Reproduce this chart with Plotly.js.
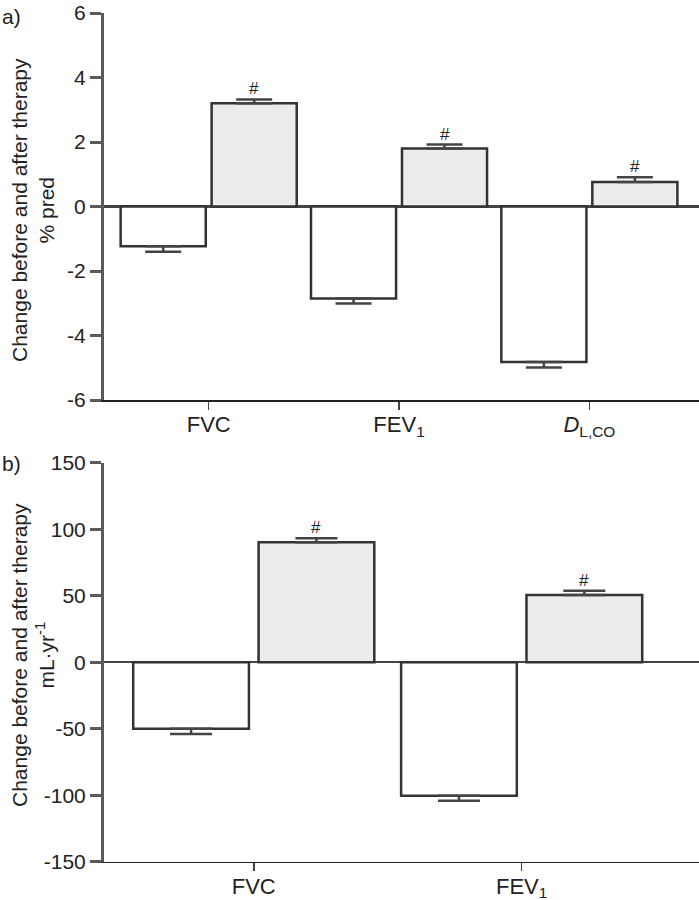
<!DOCTYPE html>
<html>
<head>
<meta charset="utf-8">
<script src="https://cdn.plot.ly/plotly-3.0.1.min.js"></script>
<style>html,body{margin:0;padding:0;background:#fff;}#chart{width:699px;height:900px;}</style>
</head>
<body>
<div id="chart"></div>
<script>
// Panel a: % predicted
const categoriesA = ['FVC', 'FEV<sub>1</sub>', '<i>D</i><sub>L,CO</sub>'];
const beforeA = [-1.23, -2.85, -4.82];
const beforeErrA = [0.17, 0.16, 0.17];
const afterA = [3.20, 1.80, 0.76];
const afterErrA = [0.12, 0.12, 0.15];
const markA = ['#', '#', '#'];
const tickValsA = [-6, -4, -2, 0, 2, 4, 6];
const tickTextA = ['-6', '-4', '-2', '0', '2', '4', '6'];

// Panel b: mL·yr-1
const categoriesB = ['FVC', 'FEV<sub>1</sub>'];
const beforeB = [-50.1, -100.5];
const beforeErrB = [3.8, 3.7];
const afterB = [90.2, 50.6];
const afterErrB = [3.0, 3.2];
const markB = ['#', '#'];
const tickValsB = [-150, -100, -50, 0, 50, 100, 150];
const tickTextB = ['-150', '-100', '-50', '0', '50', '100', '150'];

const FONT = 'Arial, "Liberation Sans", sans-serif';
const OUTLINE = {color: '#333', width: 2.5};

function zeros(n){ return new Array(n).fill(0); }

function barPair(cats, before, bErr, after, aErr, xa, ya, w, off, capw) {
  return [
    {type: 'bar', x: cats, y: before, xaxis: xa, yaxis: ya, width: w, offset: -off - w/2,
     marker: {color: '#ffffff', line: OUTLINE},
     error_y: {type: 'data', symmetric: false, array: zeros(before.length), arrayminus: bErr,
               color: '#444', thickness: 2.5, width: capw},
     showlegend: false, hoverinfo: 'y'},
    {type: 'bar', x: cats, y: after, xaxis: xa, yaxis: ya, width: w, offset: off - w/2,
     marker: {color: '#ececec', line: OUTLINE},
     error_y: {type: 'data', symmetric: false, array: aErr, arrayminus: zeros(after.length),
               color: '#444', thickness: 2.5, width: capw},
     showlegend: false, hoverinfo: 'y'}
  ];
}

const offA = 0.239, wA = 0.447;
const offB = 0.234, wB = 0.432;

const data = [
  ...barPair(categoriesA, beforeA, beforeErrA, afterA, afterErrA, 'x', 'y', wA, offA, 18),
  ...barPair(categoriesB, beforeB, beforeErrB, afterB, afterErrB, 'x2', 'y2', wB, offB, 21)
];

const HASHFONT = {family: FONT, size: 17, color: '#222'};
const annotations = [];
markA.forEach((m, i) => annotations.push({xref: 'x', yref: 'y', x: i + offA, y: afterA[i] + afterErrA[i],
  text: m, showarrow: false, yanchor: 'bottom', yshift: -1, font: HASHFONT}));
markB.forEach((m, i) => annotations.push({xref: 'x2', yref: 'y2', x: i + offB, y: afterB[i] + afterErrB[i],
  text: m, showarrow: false, yanchor: 'bottom', yshift: -1, font: HASHFONT}));

const TXT = {family: FONT, size: 21, color: '#222'};
annotations.push({xref: 'paper', yref: 'paper', x: -104/595, y: 1 - 17/900, xanchor: 'left', yanchor: 'middle',
  text: 'a)', showarrow: false, font: TXT});
annotations.push({xref: 'paper', yref: 'paper', x: -104/595, y: 1 - 463/900, xanchor: 'left', yanchor: 'middle',
  text: 'b)', showarrow: false, font: TXT});
annotations.push({xref: 'paper', yref: 'paper', x: (33 - 104)/595, y: 1 - 210/900, xanchor: 'center', yanchor: 'middle',
  text: 'Change before and after therapy<br>% pred', textangle: -90, showarrow: false, font: TXT});
annotations.push({xref: 'paper', yref: 'paper', x: (33 - 104)/595, y: 1 - 655/900, xanchor: 'center', yanchor: 'middle',
  text: 'Change before and after therapy<br>mL·yr<sup>-1</sup>', textangle: -90, showarrow: false, font: TXT});

const xCommon = {
  type: 'category', showline: true, linecolor: '#222', linewidth: 1.5, ticks: 'outside', ticklen: 8,
  tickwidth: 1.5, tickcolor: '#444', showgrid: false, zeroline: false, ticklabelstandoff: -4,
  tickfont: {family: FONT, size: 22, color: '#222'}, fixedrange: true
};
const yCommon = {
  showline: true, linecolor: '#5a5a5a', linewidth: 3, ticks: 'outside', ticklen: 11, tickwidth: 3,
  tickcolor: '#5a5a5a', showgrid: false, zeroline: true, zerolinecolor: '#444', zerolinewidth: 2.5,
  ticklabelstandoff: 0, tickmode: 'array',
  tickfont: {family: FONT, size: 21, color: '#222'}, fixedrange: true
};

const layout = {
  width: 699, height: 900,
  margin: {l: 104, r: 0, t: 0, b: 0},
  paper_bgcolor: '#fff', plot_bgcolor: '#fff',
  barmode: 'overlay',
  showlegend: false,
  xaxis: Object.assign({}, xCommon, {domain: [0, 1], anchor: 'y', range: [-0.550, 2.576]}),
  yaxis: Object.assign({}, yCommon, {domain: [1 - 400/900, 1 - 13/900], anchor: 'x', range: [-6, 6],
    tickvals: tickValsA, ticktext: tickTextA}),
  xaxis2: Object.assign({}, xCommon, {domain: [0, 1], anchor: 'y2', range: [-0.559, 1.662]}),
  yaxis2: Object.assign({}, yCommon, {domain: [1 - 861.7/900, 1 - 462.7/900], anchor: 'x2', range: [-150, 150],
    tickvals: tickValsB, ticktext: tickTextB}),
  annotations: annotations
};

Plotly.newPlot('chart', data, layout, {displayModeBar: false, staticPlot: true});
</script>
</body>
</html>
